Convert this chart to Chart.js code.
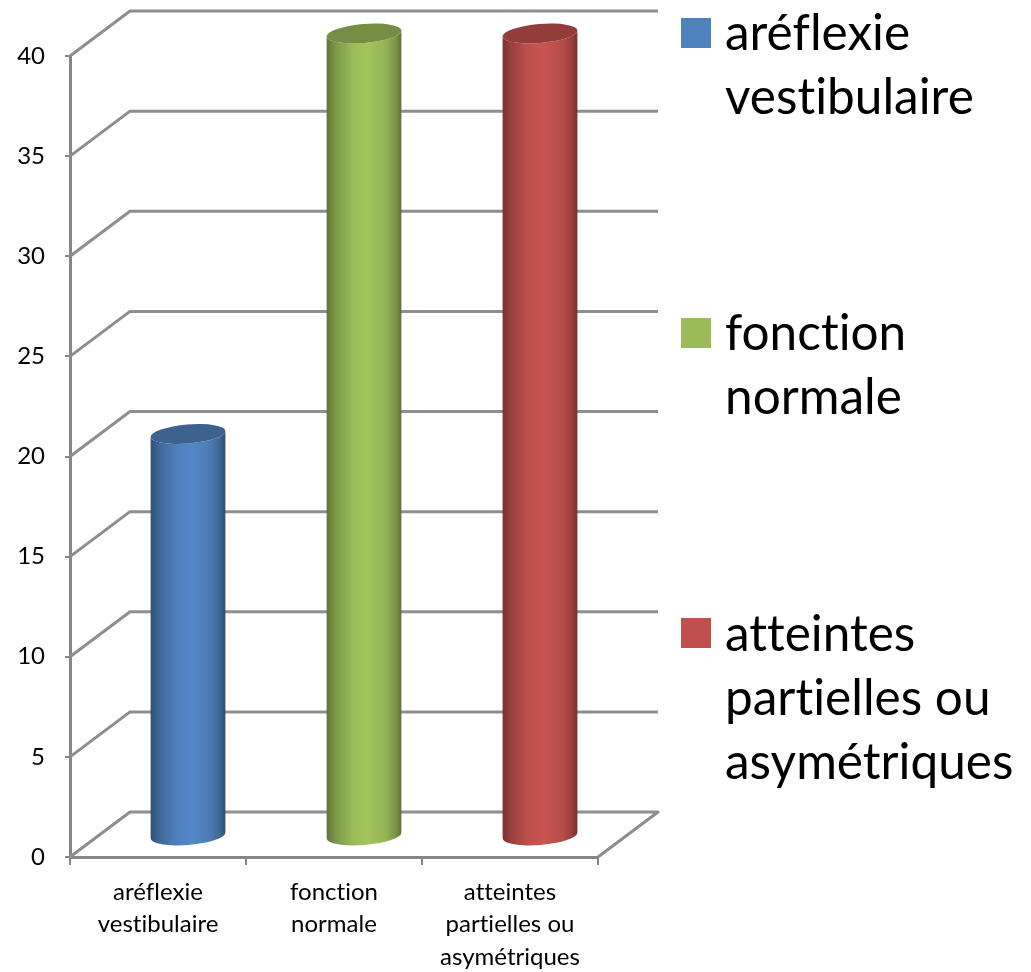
<!DOCTYPE html>
<html>
<head>
<meta charset="utf-8">
<style>
  html, body { margin: 0; background: #fff; }
  canvas { display: block; }
</style>
<script src="https://cdn.jsdelivr.net/npm/chart.js@4/dist/chart.umd.min.js"></script>
</head>
<body>
<canvas id="chart" width="1031" height="972"></canvas>
<script>
const categories = [['aréflexie', 'vestibulaire'], ['fonction', 'normale'], ['atteintes', 'partielles ou', 'asymétriques']];
const values = [20, 40, 40];
const colors = ['#4f81bd', '#9bbb59', '#c0504d'];
const yMax = 40;
const yStep = 5;

const FONT = 'Lato, "Open Sans", sans-serif';
const AXIS = '#868686';
// how far the back wall sits from the front axes
const DEPTH_X = 60;
const DEPTH_Y = 45;

function shade(hex, f) {
  const n = parseInt(hex.slice(1), 16);
  const c = [n >> 16, (n >> 8) & 255, n & 255].map(v => Math.min(255, Math.round(v * f)));
  return `rgb(${c[0]},${c[1]},${c[2]})`;
}

// bars are drawn as cylinders standing halfway into the depth
Chart.BarElement.prototype.draw = function(ctx) {
  const color = this.options.backgroundColor;
  const rx = this.width / 2;
  const ry = 9.5;
  const rot = -0.08;
  const cx = this.x + DEPTH_X / 2;
  const top = this.y - DEPTH_Y / 2;
  const bottom = this.base - DEPTH_Y / 2 + 2;

  const g = ctx.createLinearGradient(cx - rx, 0, cx + rx, 0);
  g.addColorStop(0, shade(color, 0.62));
  g.addColorStop(0.12, shade(color, 0.8));
  g.addColorStop(0.35, shade(color, 1));
  g.addColorStop(0.55, shade(color, 1.05));
  g.addColorStop(0.8, shade(color, 0.95));
  g.addColorStop(0.92, shade(color, 0.8));
  g.addColorStop(1, shade(color, 0.6));

  ctx.save();
  ctx.beginPath();
  ctx.ellipse(cx, bottom, rx, ry, rot, 0, Math.PI);
  ctx.ellipse(cx, top, rx, ry, rot, Math.PI, 0, true);
  ctx.closePath();
  ctx.fillStyle = g;
  ctx.fill();

  ctx.beginPath();
  ctx.ellipse(cx, top, rx, ry, rot, 0, Math.PI * 2);
  ctx.fillStyle = shade(color, 0.76);
  ctx.fill();
  ctx.restore();
};

const wallPlugin = {
  id: 'wall',
  beforeDraw(chart) {
    // tiny spacing keeps Lato from joining tt and ti into ligatures
    chart.ctx.letterSpacing = '0.01px';
  },
  beforeDatasetsDraw(chart) {
    const { ctx, chartArea, scales } = chart;
    ctx.save();
    ctx.strokeStyle = '#8e8e8e';
    ctx.lineWidth = 3;
    ctx.lineJoin = 'round';
    scales.y.ticks.forEach(t => {
      const y = scales.y.getPixelForValue(t.value);
      ctx.beginPath();
      ctx.moveTo(chartArea.left, y);
      ctx.lineTo(chartArea.left + DEPTH_X, y - DEPTH_Y);
      ctx.lineTo(chartArea.right + DEPTH_X, y - DEPTH_Y);
      if (t.value === 0) ctx.lineTo(chartArea.right, y);
      ctx.stroke();
    });
    ctx.restore();
  }
};

// three wrapped entries down the right side, native legend cannot wrap them
const legendPlugin = {
  id: 'sideLegend',
  afterDraw(chart) {
    const { ctx } = chart;
    const firstBaselines = [50, 350, 651];
    ctx.save();
    ctx.font = `49.5px ${FONT}`;
    ctx.textAlign = 'left';
    ctx.textBaseline = 'alphabetic';
    categories.forEach((lines, i) => {
      ctx.fillStyle = colors[i];
      ctx.fillRect(681, [18, 318, 618][i], 30, 30);
      ctx.fillStyle = '#000';
      lines.forEach((line, k) => ctx.fillText(line, 725, firstBaselines[i] + k * 64));
    });
    ctx.restore();
  }
};

new Chart(document.getElementById('chart'), {
  type: 'bar',
  data: {
    labels: categories,
    datasets: [{ data: values, backgroundColor: colors, barPercentage: 0.426, categoryPercentage: 1, clip: false }]
  },
  options: {
    responsive: false,
    animation: false,
    layout: { padding: { top: 56, right: 433, bottom: 0, left: 0 } },
    plugins: { legend: { display: false }, tooltip: { enabled: false } },
    scales: {
      x: {
        afterFit(s) { s.height = 115; },
        grid: { drawOnChartArea: false, color: AXIS, lineWidth: 2, tickLength: 8 },
        border: { color: AXIS, width: 3 },
        ticks: { color: '#000', padding: 11, maxRotation: 0, autoSkip: false, font: { family: FONT, size: 24, lineHeight: 1.35 } }
      },
      y: {
        min: 0,
        max: yMax,
        afterFit(s) { s.width = 70; },
        grid: { drawOnChartArea: false, color: AXIS, lineWidth: 2, tickLength: 5 },
        border: { color: AXIS, width: 3 },
        ticks: { stepSize: yStep, color: '#000', padding: 20, font: { family: FONT, size: 24 } }
      }
    }
  },
  plugins: [wallPlugin, legendPlugin]
});
</script>
</body>
</html>
